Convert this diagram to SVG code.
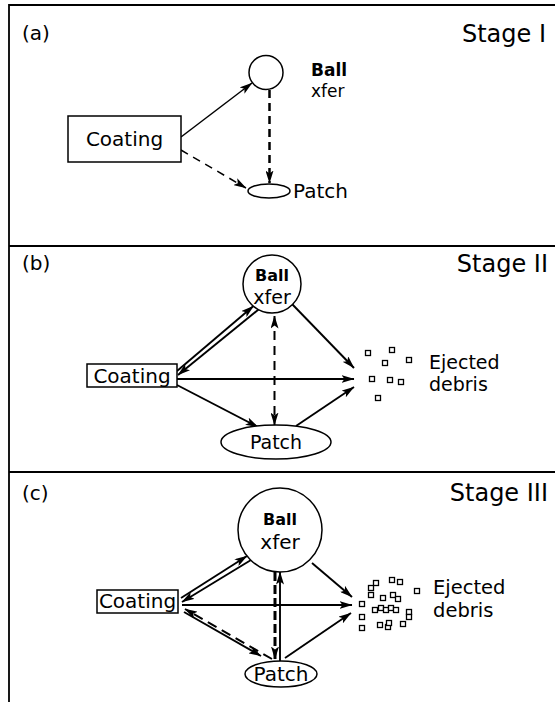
<svg xmlns="http://www.w3.org/2000/svg" width="555" height="702" viewBox="0 0 555 702">
<style>
text { font-family: "DejaVu Sans", "Liberation Sans", sans-serif; fill: #000; }
.tag { font-size: 20px; }
.stage { font-size: 24px; text-anchor: end; }
.lbl { font-size: 20px; }
.mid { text-anchor: middle; }
.bold { font-weight: bold; }
.node { fill: #fff; stroke: #000; stroke-width: 1.5; }
.frame { fill: none; stroke: #000; stroke-width: 1.8; }
.sq { fill: #fff; stroke: #000; stroke-width: 1.3; }
.c { fill: none; stroke: #000; stroke-width: 1.9; marker-end: url(#ah); }
.thin { stroke-width: 1.5; }
.both { marker-start: url(#ah); }
.d1 { stroke-dasharray: 8 6; }
.d2 { stroke-dasharray: 8 5; stroke-width: 2.5; }
.d3 { stroke-dasharray: 9 6; stroke-width: 2; }
.d4 { stroke-dasharray: 9 4; stroke-width: 3; }
.d5 { stroke-dasharray: 10 6; stroke-width: 2; }
</style>
<defs>
<marker id="ah" markerUnits="userSpaceOnUse" viewBox="0 0 13 8" markerWidth="13" markerHeight="8" refX="12.5" refY="4" orient="auto-start-reverse">
<path d="M0,0 L13,4 L0,8 L3,4 z" fill="#000"/>
</marker>
</defs>

<g id="frame">
<path class="frame" d="M9,702 L9,5 L555,5 M9,246 L555,246 M9,472 L555,472"/>
</g>

<!-- Panel (a) -->
<g id="panel-a-title">
<text class="tag" x="22" y="40">(a)</text>
<text class="stage" x="546" y="42">Stage I</text>
</g>
<g id="connectors-a">
<path class="c thin" d="M181,137 L252,83"/>
<path class="c thin d1" d="M181,150 L246,188"/>
<path class="c d2" d="M269.5,90 L269.5,183"/>
</g>
<g id="a-coating">
<rect class="node" x="68" y="116" width="113" height="46"/>
<text class="lbl mid" x="124.5" y="146">Coating</text>
</g>
<g id="a-ball">
<circle class="node" cx="266" cy="72.5" r="17"/>
<text class="bold" x="311" y="76" font-size="17">Ball</text>
<text x="311" y="96.5" font-size="17">xfer</text>
</g>
<g id="a-patch">
<ellipse class="node" cx="269" cy="191" rx="21" ry="7"/>
<text class="lbl" x="293" y="198">Patch</text>
</g>

<!-- Panel (b) -->
<g id="panel-b-title">
<text class="tag" x="22" y="270">(b)</text>
<text class="stage" x="548" y="272">Stage II</text>
</g>
<g id="connectors-b">
<path class="c" d="M177,371 L253.5,306"/>
<path class="c" d="M258.5,309.5 L178,375"/>
<path class="c" d="M292.5,304.5 L354,368"/>
<path class="c" d="M177,379 L354,379"/>
<path class="c" d="M177,385 L258,427"/>
<path class="c" d="M296,426 L354,387"/>
<path class="c both d3" d="M274.5,316 L274.5,425"/>
</g>
<g id="b-coating">
<rect class="node" x="87" y="364" width="90" height="23"/>
<text class="lbl mid" x="132" y="383">Coating</text>
</g>
<g id="b-ball">
<circle class="node" cx="272" cy="284" r="29"/>
<text class="mid bold" x="272" y="281" font-size="16">Ball</text>
<text class="mid" x="272" y="303.5" font-size="19">xfer</text>
</g>
<g id="b-patch">
<ellipse class="node" cx="276" cy="442" rx="55" ry="17"/>
<text class="mid" x="276" y="449" font-size="19">Patch</text>
</g>
<g id="b-debris">
<rect class="sq" x="365.5" y="350.5" width="5" height="5"/>
<rect class="sq" x="389.5" y="347.5" width="5" height="5"/>
<rect class="sq" x="382.5" y="360.5" width="5" height="5"/>
<rect class="sq" x="406.5" y="357.5" width="5" height="5"/>
<rect class="sq" x="369.5" y="376.5" width="5" height="5"/>
<rect class="sq" x="387.5" y="377.5" width="5" height="5"/>
<rect class="sq" x="398.5" y="379.5" width="5" height="5"/>
<rect class="sq" x="375.5" y="395.5" width="5" height="5"/>
<text x="429" y="369" font-size="19">Ejected</text>
<text x="429" y="391" font-size="19">debris</text>
</g>

<!-- Panel (c) -->
<g id="panel-c-title">
<text class="tag" x="22" y="500">(c)</text>
<text class="stage" x="548" y="501">Stage III</text>
</g>
<g id="connectors-c">
<path class="c" d="M181,598 L247,556"/>
<path class="c" d="M251,560 L182,602"/>
<path class="c" d="M312,563 L352,597"/>
<path class="c" d="M182,605 L352,605"/>
<path class="c" d="M184,612 L261,656"/>
<path class="c d5" d="M272,659 L185,609"/>
<path class="c" d="M285,658 L351,613"/>
<path class="c d4" d="M275,572 L275,659"/>
<path class="c" d="M280,661 L280,572"/>
</g>
<g id="c-coating">
<rect class="node" x="97" y="590" width="81" height="23"/>
<text class="lbl mid" x="137.5" y="608">Coating</text>
</g>
<g id="c-ball">
<circle class="node" cx="280" cy="530" r="42"/>
<text class="mid bold" x="280" y="524.5" font-size="16">Ball</text>
<text class="mid" x="280" y="549" font-size="20">xfer</text>
</g>
<g id="c-patch">
<ellipse class="node" cx="281" cy="674" rx="36" ry="13"/>
<text class="lbl mid" x="281" y="681">Patch</text>
</g>
<g id="c-debris">
<rect class="sq" x="368.5" y="585.5" width="5" height="5"/>
<rect class="sq" x="373.5" y="580.5" width="5" height="5"/>
<rect class="sq" x="389.5" y="577.5" width="5" height="5"/>
<rect class="sq" x="397.5" y="579.5" width="5" height="5"/>
<rect class="sq" x="414.5" y="588.5" width="5" height="5"/>
<rect class="sq" x="368.5" y="592.5" width="5" height="5"/>
<rect class="sq" x="380.5" y="595.5" width="5" height="5"/>
<rect class="sq" x="390.5" y="592.5" width="5" height="5"/>
<rect class="sq" x="395.5" y="596.5" width="5" height="5"/>
<rect class="sq" x="359.5" y="601.5" width="5" height="5"/>
<rect class="sq" x="372.5" y="607.5" width="5" height="5"/>
<rect class="sq" x="378.5" y="605.5" width="5" height="5"/>
<rect class="sq" x="383.5" y="607.5" width="5" height="5"/>
<rect class="sq" x="388.5" y="605.5" width="5" height="5"/>
<rect class="sq" x="393.5" y="607.5" width="5" height="5"/>
<rect class="sq" x="406.5" y="609.5" width="5" height="5"/>
<rect class="sq" x="406.5" y="614.5" width="5" height="5"/>
<rect class="sq" x="359.5" y="614.5" width="5" height="5"/>
<rect class="sq" x="377.5" y="622.5" width="5" height="5"/>
<rect class="sq" x="385.5" y="624.5" width="5" height="5"/>
<rect class="sq" x="386.5" y="620.5" width="5" height="5"/>
<rect class="sq" x="400.5" y="621.5" width="5" height="5"/>
<rect class="sq" x="359.5" y="625.5" width="5" height="5"/>
<text x="433" y="594" font-size="19.5">Ejected</text>
<text x="433" y="617" font-size="19.5">debris</text>
</g>
</svg>
